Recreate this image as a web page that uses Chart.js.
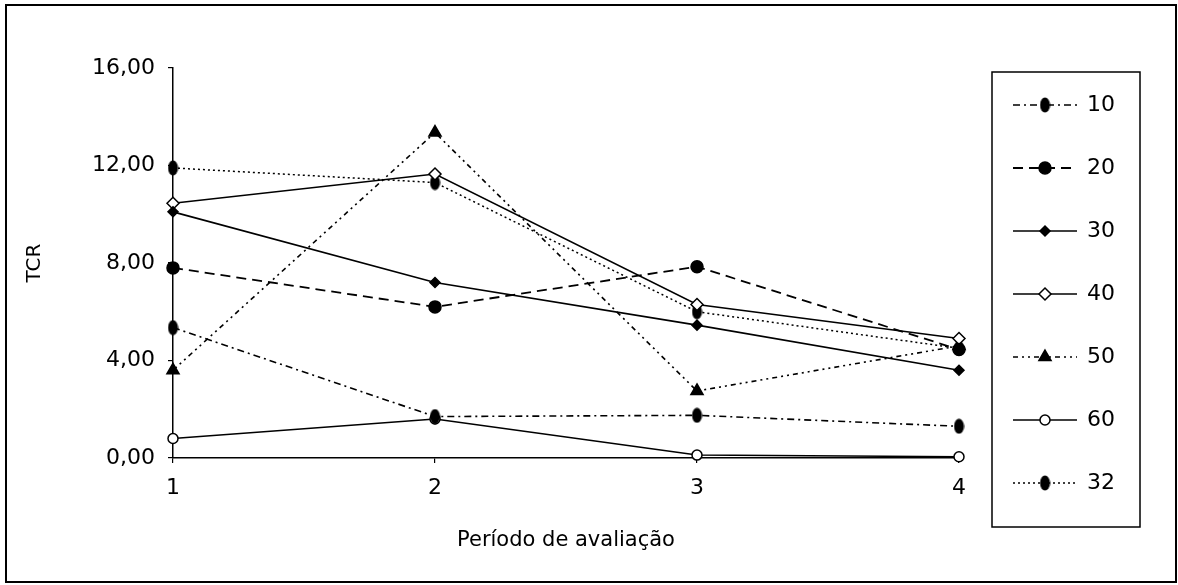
<!DOCTYPE html>
<html>
<head>
<meta charset="utf-8">
<script src="https://cdn.jsdelivr.net/npm/chart.js@4/dist/chart.umd.min.js"></script>
<style>
  html, body { margin: 0; padding: 0; background: #fff; }
  #wrap { width: 1178px; height: 585px; }
</style>
</head>
<body>
<div id="wrap"><canvas id="myChart" width="1178" height="585"></canvas></div>
<script>
// data
var periods = ['1', '2', '3', '4'];
var seriesNames = ['10', '20', '30', '40', '50', '60', '32'];
var s10 = [5.35, 1.7, 1.75, 1.3];
var s20 = [7.8, 6.2, 7.85, 4.45];
var s30 = [10.1, 7.2, 5.45, 3.6];
var s40 = [10.45, 11.65, 6.3, 4.9];
var s50 = [3.6, 13.35, 2.75, 4.6];
var s60 = [0.8, 1.6, 0.12, 0.05];
var s32 = [11.9, 11.3, 6.0, 4.5];
var yTickLabels = ['0,00', '4,00', '8,00', '12,00', '16,00'];

var FONT = 'DejaVu Sans';

// tall filled ellipse marker
function ellipseMarker(w, h) {
    var c = document.createElement('canvas');
    c.width = w;
    c.height = h;
    var g = c.getContext('2d');
    g.fillStyle = '#000';
    g.beginPath();
    g.ellipse(w / 2, h / 2, w / 2 - 0.5, h / 2 - 0.5, 0, 0, Math.PI * 2);
    g.fill();
    return c;
}
var ellipse = ellipseMarker(11, 16);

function line(label, data, dash, width, style, radius, fill) {
    return {
        label: label,
        data: data,
        borderColor: '#000',
        borderWidth: width,
        borderDash: dash,
        pointStyle: style,
        pointRadius: radius,
        pointBackgroundColor: fill,
        pointBorderColor: '#000',
        pointBorderWidth: 1.5,
        tension: 0,
        clip: false
    };
}

var datasets = [
    line(seriesNames[0], s10, [7, 4, 2, 4], 1.6, ellipse, 6, '#000'),
    line(seriesNames[1], s20, [10, 6], 1.8, 'circle', 6, '#000'),
    line(seriesNames[2], s30, [], 1.7, 'rectRot', 5, '#000'),
    line(seriesNames[3], s40, [], 1.6, 'rectRot', 6, '#fff'),
    line(seriesNames[4], s50, [5, 4, 2, 4, 2, 4], 1.6, 'triangle', 7, '#000'),
    line(seriesNames[5], s60, [], 1.6, 'circle', 5, '#fff'),
    line(seriesNames[6], s32, [2, 3], 1.5, ellipse, 6, '#000')
];

var framePlugin = {
    id: 'frame',
    afterDraw: function (chart) {
        var c = chart.ctx;
        c.save();
        c.strokeStyle = '#000';
        c.lineWidth = 2;
        c.strokeRect(6, 5, 1170, 577);
        // legend box
        c.lineWidth = 1.5;
        c.strokeRect(992, 72, 148, 455);
        chart.data.datasets.forEach(function (ds, i) {
            var y = 105 + i * 63;
            c.setLineDash(ds.borderDash);
            c.lineWidth = ds.borderWidth;
            c.beginPath();
            c.moveTo(1013, y);
            c.lineTo(1077, y);
            c.stroke();
            c.setLineDash([]);
            c.fillStyle = ds.pointBackgroundColor;
            c.strokeStyle = '#000';
            c.lineWidth = 1.5;
            Chart.helpers.drawPoint(c, {
                pointStyle: ds.pointStyle,
                radius: ds.pointRadius,
                rotation: 0,
                borderWidth: 1.5
            }, 1045, y);
            c.fillStyle = '#000';
            c.font = '22px "' + FONT + '"';
            c.textAlign = 'left';
            c.textBaseline = 'middle';
            c.fillText(ds.label, 1087, y);
        });
        c.restore();
    }
};

var ctx = document.getElementById('myChart').getContext('2d');
var myChart = new Chart(ctx, {
    type: 'line',
    data: {
        labels: periods,
        datasets: datasets
    },
    options: {
        responsive: false,
        animation: false,
        layout: {
            padding: { left: 0, top: 68, right: 219, bottom: 0 }
        },
        plugins: {
            legend: { display: false },
            tooltip: { enabled: false }
        },
        scales: {
            x: {
                offset: false,
                grid: { display: true, drawOnChartArea: false, drawTicks: true, tickLength: 5, color: '#000', lineWidth: 1.2 },
                border: { display: true, color: '#000', width: 1.5 },
                ticks: { color: '#000', padding: 12, maxRotation: 0, font: { family: FONT, size: 22 } },
                title: {
                    display: true,
                    text: 'Período de avaliação',
                    color: '#000',
                    font: { family: FONT, size: 21 },
                    padding: { top: 0, bottom: 32 }
                },
                afterFit: function (scale) { scale.height = 127; }
            },
            y: {
                min: 0,
                max: 16,
                grid: { display: true, drawOnChartArea: false, drawTicks: true, tickLength: 5, color: '#000', lineWidth: 1.2 },
                border: { display: true, color: '#000', width: 1.5 },
                ticks: {
                    stepSize: 4,
                    color: '#000',
                    padding: 13,
                    font: { family: FONT, size: 22 },
                    callback: function (v, i) { return yTickLabels[i]; }
                },
                title: {
                    display: true,
                    text: 'TCR',
                    color: '#000',
                    font: { family: FONT, size: 20 },
                    padding: { top: 23, bottom: 0 }
                },
                afterFit: function (scale) { scale.width = 173; }
            }
        }
    },
    plugins: [framePlugin]
});
</script>
</body>
</html>
